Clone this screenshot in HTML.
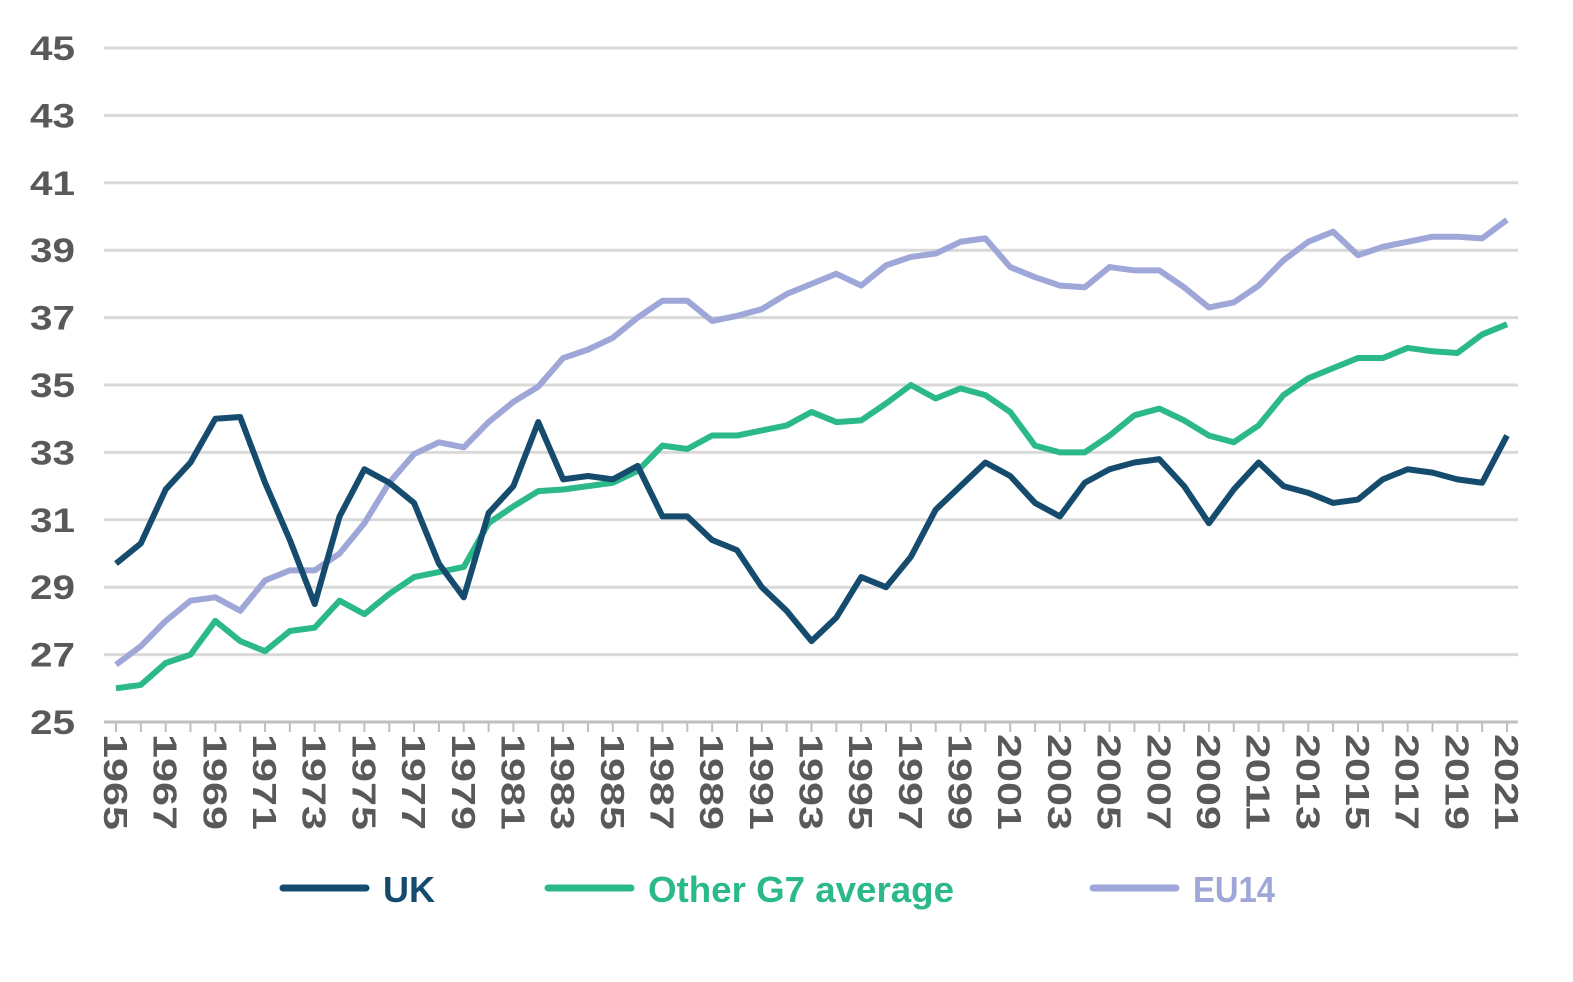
<!DOCTYPE html>
<html><head><meta charset="utf-8"><style>
body{margin:0;background:#fff;}
svg{display:block;font-family:"Liberation Sans",sans-serif;}
</style></head><body>
<svg id="chart" width="1573" height="982"></svg>
<script>
const years=[];for(let y=1965;y<=2021;y++)years.push(y);
const ukValues=[29.7,30.3,31.9,32.7,34.0,34.05,32.1,30.4,28.5,31.1,32.5,32.1,31.5,29.7,28.7,31.2,32.0,33.9,32.2,32.3,32.2,32.6,31.1,31.1,30.4,30.1,29.0,28.3,27.4,28.1,29.3,29.0,29.9,31.3,32.0,32.7,32.3,31.5,31.1,32.1,32.5,32.7,32.8,32.0,30.9,31.9,32.7,32.0,31.8,31.5,31.6,32.2,32.5,32.4,32.2,32.1,33.5];
const g7Values=[26.0,26.1,26.75,27.0,28.0,27.4,27.1,27.7,27.8,28.6,28.2,28.8,29.3,29.45,29.6,30.9,31.4,31.85,31.9,32.0,32.1,32.45,33.2,33.1,33.5,33.5,33.65,33.8,34.2,33.9,33.95,34.45,35.0,34.6,34.9,34.7,34.2,33.2,33.0,33.0,33.5,34.1,34.3,33.95,33.5,33.3,33.8,34.7,35.2,35.5,35.8,35.8,36.1,36.0,35.95,36.5,36.8];
const eu14Values=[26.7,27.25,28.0,28.6,28.7,28.3,29.2,29.5,29.5,30.0,30.9,32.1,32.95,33.3,33.15,33.9,34.5,34.95,35.8,36.05,36.4,37.0,37.5,37.5,36.9,37.05,37.25,37.7,38.0,38.3,37.95,38.55,38.8,38.9,39.25,39.35,38.5,38.2,37.95,37.9,38.5,38.4,38.4,37.9,37.3,37.45,37.95,38.7,39.25,39.55,38.85,39.1,39.25,39.4,39.4,39.35,39.9];
const yTicks=[25,27,29,31,33,35,37,39,41,43,45];
const seriesNames=["UK","Other G7 average","EU14"];
const colors=["#154c6e","#2bb98a","#9ea7d8"];

const NS="http://www.w3.org/2000/svg";
const svg=document.getElementById('chart');
const x0=116,x1=1507,yTop=48,yBot=722;
const xs=y=>x0+(y-1965)*(x1-x0)/56;
const ys=v=>yBot-(v-25)*(yBot-yTop)/20;
function el(t,a,p){const e=document.createElementNS(NS,t);for(const k in a)e.setAttribute(k,a[k]);(p||svg).appendChild(e);return e;}

yTicks.forEach(t=>{
  const l=el('line',{x1:104,x2:1518,y1:ys(t),y2:ys(t),stroke:t===25?'#bfbfbf':'#d9d9d9','stroke-width':3});
  
  
  const tx=el('text',{x:75,y:ys(t)+12,'text-anchor':'end','font-size':34,'font-weight':'bold',fill:'#595959',textLength:45,lengthAdjust:'spacingAndGlyphs'});
  tx.textContent=t;
  
  
});
years.forEach(y=>{
  const tk=el('line',{x1:xs(y),x2:xs(y),y1:yBot,y2:yBot+10,stroke:'#bfbfbf','stroke-width':2});
  
  
  if((y-1965)%2===0){
    const tx=el('text',{transform:`translate(${xs(y)-12},734) rotate(90)`,'font-size':33,'font-weight':'bold',fill:'#595959','text-anchor':'start',textLength:96,lengthAdjust:'spacingAndGlyphs'});
    tx.textContent=y;
    
    
  }
});
[ukValues,g7Values,eu14Values].slice().reverse().forEach((vals,ri)=>{
  const i=2-ri;
  const p=el('polyline',{points:vals.map((v,j)=>xs(years[j])+','+ys(v)).join(' '),fill:'none',stroke:colors[i],'stroke-width':6,'stroke-linejoin':'round'});
  
  
});
const legX=[283,548,1093];
const legW=[52,306,82];
seriesNames.forEach((n,i)=>{
  const g=el('g',{});
  
  
  el('line',{x1:legX[i],x2:legX[i]+83,y1:888,y2:888,stroke:colors[i],'stroke-width':7,'stroke-linecap':'round'},g);
  const t=el('text',{x:legX[i]+100,y:902,'font-size':36,'font-weight':'bold',fill:colors[i],textLength:legW[i],lengthAdjust:'spacingAndGlyphs'},g);
  t.textContent=n;
});
</script>
</body></html>
